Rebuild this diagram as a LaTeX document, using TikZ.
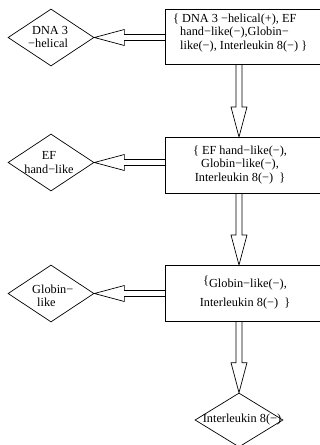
\documentclass[tikz,border=0pt]{standalone}
\usepackage{fontspec}
\setmainfont{Liberation Serif}
\usetikzlibrary{shapes.geometric,calc}
\newcommand\harr[2]{\draw[arr] ($(#1 |- #2)+(0,-3)$) -- ($(#2)+(30,-3)$) -- ($(#2)+(30,-8)$) -- (#2) -- ($(#2)+(30,8)$) -- ($(#2)+(30,3)$) -- ($(#1 |- #2)+(0,3)$);}
\newcommand\varr[2]{\draw[arr] ($(#1)+(-3,0)$) -- ($(#2)+(-3,-30)$) -- ($(#2)+(-8,-30)$) -- (#2) -- ($(#2)+(8,-30)$) -- ($(#2)+(3,-30)$) -- ($(#1)+(3,0)$);}
\begin{document}
\begin{tikzpicture}[x=1pt,y=-1pt,
  box/.style={draw,line width=0.9pt,rectangle,minimum width=157pt,minimum height=55pt,inner sep=0pt,anchor=north west},
  dia/.style={draw,line width=0.7pt,diamond,minimum width=86pt,minimum height=57pt,inner sep=0pt},
  txt/.style={font=\fontsize{12.3}{13.5}\selectfont,inner sep=0pt},
  arr/.style={line width=0.7pt,line join=miter}]
\useasboundingbox (0,0) rectangle (320,445);
% boxes
\node[box] (b1) at (165,9) {};
\node[box,minimum height=56pt] (b2) at (165,137) {};
\node[box,minimum height=56pt] (b3) at (165,265) {};
% diamonds
\node[dia] (d1) at (51,37.5) {};
\node[dia] (d2) at (51,162.5) {};
\node[dia] (d3) at (51,293.5) {};
\node[dia,minimum width=88pt,minimum height=54pt] (d4) at (239,420) {};
% box texts
\node[txt,anchor=west,align=left] (t1) at (173,33) {\{ DNA 3 −helical(+), EF\\\hspace*{7pt}hand−like(−),Globin−\\\hspace*{7pt}like(−), Interleukin 8(−) \}};
\node[txt,align=center] (t2) at (240,165) {\{ EF hand−like(−),\\Globin−like(−),\\Interleukin 8(−)\ \ \}};
\node[txt,align=center] (t3) at (245,292.5) {\raisebox{3pt}{\{}Globin−like(−),\\[5pt]Interleukin 8(−)\ \ \}};
% diamond texts
\node[txt,anchor=west,align=left] (s1) at (28,37) {\hspace*{4pt}DNA 3\\−helical};
\node[txt,align=center] (s2) at (49,162.5) {EF\\hand−like};
\node[txt,anchor=west,align=left] (s3) at (32,296) {Globin−\\\hspace*{5pt}like};
\node[txt] (s4) at (242,420) {Interleukin 8(−)};
% arrows
\harr{b1.west}{d1.east}
\harr{b2.west}{d2.east}
\harr{b3.west}{d3.east}
\varr{d4.north |- b1.south}{d4.north |- b2.north}
\varr{d4.north |- b2.south}{d4.north |- b3.north}
\varr{d4.north |- b3.south}{d4.north}
\end{tikzpicture}
\end{document}
